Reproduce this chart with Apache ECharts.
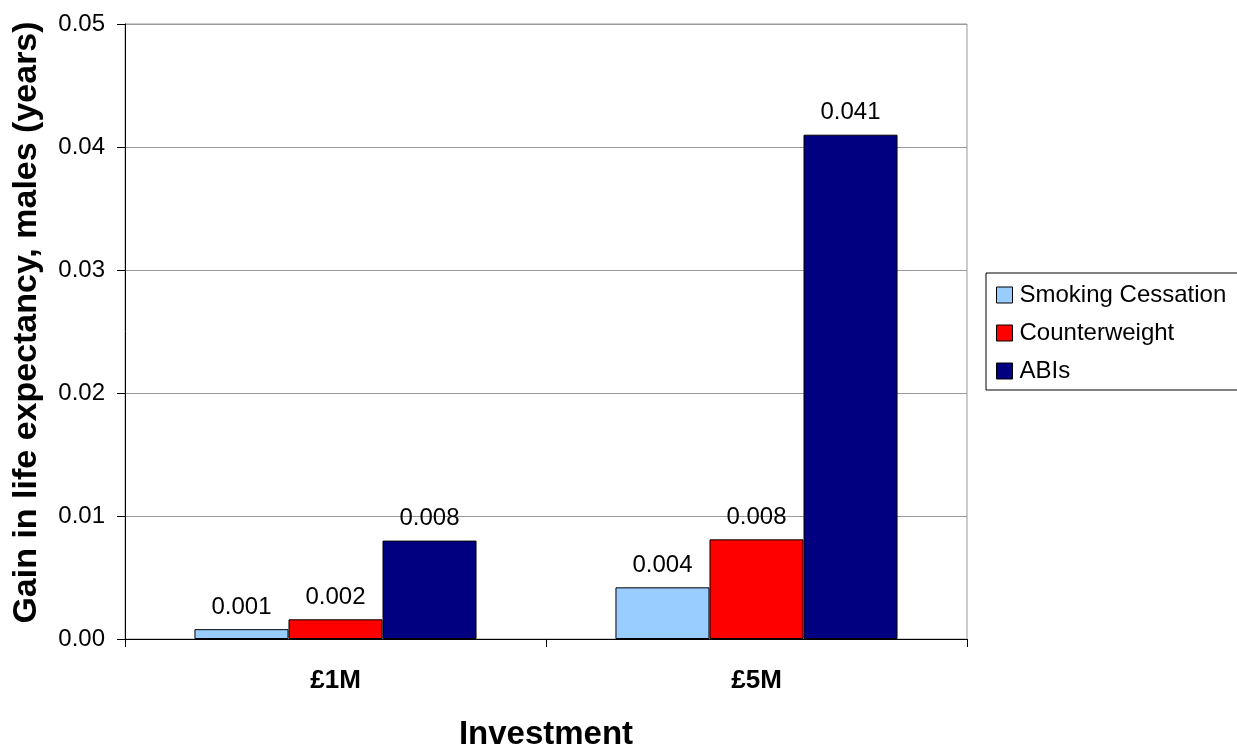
<!DOCTYPE html>
<html>
<head>
<meta charset="utf-8">
<script src="https://cdn.jsdelivr.net/npm/echarts@6/dist/echarts.min.js"></script>
<style>
html,body{margin:0;padding:0;background:#fff;}
#main{width:1237px;height:744px;}
</style>
</head>
<body>
<div id="main"></div>
<script type="text/javascript">
// 数据
var categories = ['£1M', '£5M'];
var smoking = [0.0008, 0.0042];
var counterweight = [0.0016, 0.0081];
var abis = [0.0080, 0.0410];
var yTicks = [0, 0.01, 0.02, 0.03, 0.04, 0.05];

var font = 'Liberation Sans, Arial, sans-serif';

var labelOpt = {
    show: true,
    position: 'top',
    distance: 10,
    color: '#000',
    fontFamily: font,
    fontSize: 24,
    formatter: function (p) { return p.value.toFixed(3); }
};

function makeSeries(name, data, color) {
    return {
        name: name,
        type: 'bar',
        data: data,
        barGap: '0%',
        barCategoryGap: '33%',
        itemStyle: { color: color, borderColor: '#000', borderWidth: 1 },
        label: labelOpt
    };
}

var myChart = echarts.init(document.getElementById('main'));

var option = {
    animation: false,
    grid: {
        left: 125, right: 270, top: 24, bottom: 105,
        outerBoundsMode: 'none',
        containLabel: false,
        show: true, borderColor: '#999', borderWidth: 1
    },
    legend: {
        orient: 'vertical',
        left: 986, top: 273,
        data: ['Smoking Cessation', 'Counterweight', 'ABIs'],
        borderColor: '#000', borderWidth: 1,
        padding: [10, 30, 7, 10],
        itemGap: 14,
        itemWidth: 16, itemHeight: 16,
        icon: 'rect',
        itemStyle: { borderColor: '#000', borderWidth: 1 },
        textStyle: { fontFamily: font, fontSize: 24, lineHeight: 24, color: '#000', padding: [0, 0, 0, 2] }
    },
    xAxis: {
        type: 'category',
        data: categories,
        name: 'Investment',
        nameLocation: 'middle',
        nameGap: 79,
        nameTextStyle: { fontFamily: font, fontSize: 33, fontWeight: 'bold', color: '#000' },
        axisLine: { lineStyle: { color: '#000', width: 1 } },
        axisTick: { show: true, length: 8, lineStyle: { color: '#000' } },
        axisLabel: { fontFamily: font, fontSize: 26, fontWeight: 'bold', color: '#000', margin: 29 }
    },
    yAxis: {
        type: 'value',
        min: yTicks[0],
        max: yTicks[yTicks.length - 1],
        interval: 0.01,
        name: 'Gain in life expectancy, males (years)',
        nameLocation: 'middle',
        nameGap: 81,
        nameTextStyle: { fontFamily: font, fontSize: 34, fontWeight: 'bold', color: '#000', padding: [0, 0, 0, 18] },
        axisLine: { show: true, lineStyle: { color: '#000', width: 1 } },
        axisTick: { show: true, length: 8, lineStyle: { color: '#000' } },
        splitLine: { lineStyle: { color: '#999', width: 1 } },
        axisLabel: {
            fontFamily: font, fontSize: 24, color: '#000', margin: 20,
            formatter: function (v) { return v.toFixed(2); }
        }
    },
    series: [
        makeSeries('Smoking Cessation', smoking, '#99CCFF'),
        makeSeries('Counterweight', counterweight, '#FF0000'),
        makeSeries('ABIs', abis, '#000080')
    ]
};

myChart.setOption(option);
</script>
</body>
</html>
